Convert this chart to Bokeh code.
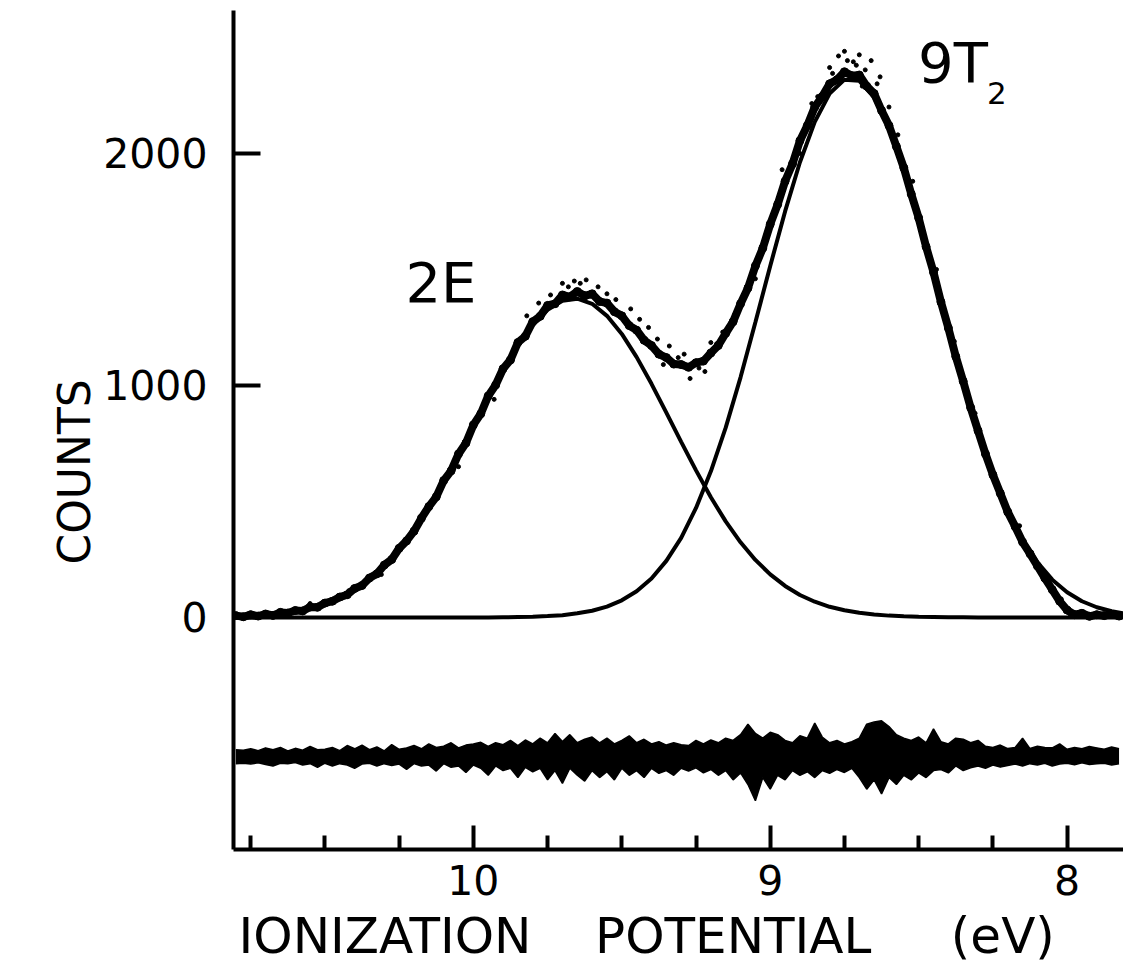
from bokeh.plotting import figure
from bokeh.models import Range1d, FixedTicker, Label
from bokeh.embed import file_html
from bokeh.resources import INLINE

# ---------------- data ----------------
# energy grid of the two fitted components (eV)
FIT_EV = [10.80, 10.75, 10.70, 10.65, 10.60, 10.55, 10.50, 10.45, 10.40, 10.35,
          10.30, 10.25, 10.20, 10.15, 10.10, 10.05, 10.00, 9.95, 9.90, 9.85,
          9.80, 9.75, 9.70, 9.65, 9.60, 9.55, 9.50, 9.45, 9.40, 9.35,
          9.30, 9.25, 9.20, 9.15, 9.10, 9.05, 9.00, 8.95, 8.90, 8.85,
          8.80, 8.75, 8.70, 8.65, 8.60, 8.55, 8.50, 8.45, 8.40, 8.35,
          8.30, 8.25, 8.20, 8.15, 8.10, 8.05, 8.00, 7.95, 7.90, 7.85, 7.80]
FIT_2E = [4, 7, 11, 18, 27, 40, 59, 85, 120, 165,
          222, 292, 375, 472, 580, 698, 822, 945, 1064, 1171,
          1260, 1326, 1365, 1374, 1352, 1300, 1222, 1122, 1007, 883,
          757, 634, 518, 414, 324, 248, 186, 136, 97, 68,
          46, 31, 20, 13, 8, 5, 3, 2, 1, 1,
          0, 0, 0, 0, 0, 0, 0, 0, 0, 0, 0]
FIT_9T2 = [0, 0, 0, 0, 0, 0, 0, 0, 0, 0,
           0, 0, 0, 0, 0, 0, 0, 0, 1, 2,
           3, 6, 10, 18, 29, 47, 74, 113, 168, 244,
           343, 472, 630, 818, 1035, 1272, 1515, 1750, 1962, 2136,
           2258, 2318, 2313, 2241, 2110, 1930, 1716, 1482, 1243, 1014,
           804, 619, 463, 336, 238, 163, 109, 70, 44, 27, 16]

# measured spectrum and residual grid (eV)
DATA_EV = [10.800, 10.775, 10.750, 10.725, 10.700, 10.675, 10.650, 10.625, 10.600, 10.575,
           10.550, 10.525, 10.500, 10.475, 10.450, 10.425, 10.400, 10.375, 10.350, 10.325,
           10.300, 10.275, 10.250, 10.225, 10.200, 10.175, 10.150, 10.125, 10.100, 10.075,
           10.050, 10.025, 10.000, 9.975, 9.950, 9.925, 9.900, 9.875, 9.850, 9.825,
           9.800, 9.775, 9.750, 9.725, 9.700, 9.675, 9.650, 9.625, 9.600, 9.575,
           9.550, 9.525, 9.500, 9.475, 9.450, 9.425, 9.400, 9.375, 9.350, 9.325,
           9.300, 9.275, 9.250, 9.225, 9.200, 9.175, 9.150, 9.125, 9.100, 9.075,
           9.050, 9.025, 9.000, 8.975, 8.950, 8.925, 8.900, 8.875, 8.850, 8.825,
           8.800, 8.775, 8.750, 8.725, 8.700, 8.675, 8.650, 8.625, 8.600, 8.575,
           8.550, 8.525, 8.500, 8.475, 8.450, 8.425, 8.400, 8.375, 8.350, 8.325,
           8.300, 8.275, 8.250, 8.225, 8.200, 8.175, 8.150, 8.125, 8.100, 8.075,
           8.050, 8.025, 8.000, 7.975, 7.950, 7.925, 7.900, 7.875, 7.850, 7.825]
DATA_COUNTS = [8, 3, 12, 6, 15, 9, 22, 19, 30, 28,
               45, 44, 62, 70, 88, 98, 125, 138, 170, 188,
               226, 250, 298, 330, 372, 428, 478, 520, 590, 632,
               705, 752, 830, 878, 955, 1002, 1072, 1110, 1185, 1212,
               1275, 1298, 1345, 1352, 1390, 1382, 1405, 1386, 1395, 1362,
               1355, 1318, 1300, 1258, 1238, 1195, 1172, 1135, 1120, 1092,
               1090, 1078, 1098, 1105, 1140, 1172, 1225, 1275, 1352, 1420,
               1515, 1592, 1695, 1780, 1880, 1955, 2055, 2120, 2200, 2245,
               2300, 2318, 2352, 2335, 2338, 2290, 2258, 2185, 2120, 2030,
               1938, 1825, 1722, 1598, 1488, 1360, 1248, 1125, 1018, 905,
               805, 705, 615, 535, 455, 392, 325, 275, 222, 170,
               120, 70, 32, 12, 18, 5, 12, 8, 14, 6]

# scattered single points lying off the main band
STRAY_EV = [10.55, 10.42, 10.31, 10.18, 10.05, 9.93, 9.82, 9.74, 9.70, 9.66,
            9.62, 9.58, 9.55, 9.47, 9.44, 9.38, 9.36, 9.31, 9.27, 9.22,
            9.18, 9.12, 9.05, 8.97, 8.90, 8.84, 8.80, 8.77, 8.75, 8.72,
            8.70, 8.68, 8.66, 8.63, 8.60, 8.52, 8.44, 8.31, 8.16, 8.06, 8.02, 7.99,
            9.78, 9.68, 9.64, 9.52, 9.41, 9.34, 9.29, 9.24, 9.20, 9.16,
            8.96, 8.86, 8.79, 8.74, 8.71, 8.69, 8.64, 8.57, 8.48, 8.38]
STRAY_COUNTS = [60, 115, 185, 410, 650, 940, 1300, 1390, 1440, 1450,
                1455, 1425, 1395, 1330, 1285, 1200, 1090, 1120, 1030, 1060,
                1180, 1305, 1460, 1810, 2000, 2245, 2370, 2420, 2440, 2395,
                2425, 2360, 2400, 2330, 2200, 1880, 1500, 880, 395, 150, 80, 15,
                1355, 1425, 1440, 1370, 1250, 1170, 1135, 1075, 1185, 1230,
                1930, 2215, 2345, 2400, 2380, 2290, 2300, 2080, 1640, 1190]

# residual trace (offset below zero): upper and lower envelope
RES_HI = [-570, -572, -566, -574, -562, -570, -560, -575, -564, -572,
          -556, -570, -568, -560, -574, -552, -566, -550, -570, -558,
          -575, -548, -568, -562, -552, -566, -545, -560, -555, -540,
          -562, -550, -545, -538, -556, -540, -548, -530, -552, -528,
          -545, -520, -540, -500, -535, -505, -540, -525, -515, -540,
          -520, -545, -530, -510, -540, -525, -545, -535, -550, -540,
          -548, -552, -530, -545, -528, -540, -520, -530, -505, -460,
          -500, -520, -495, -505, -530, -540, -510, -520, -455, -515,
          -540, -530, -545, -535, -520, -460, -450, -445, -470, -505,
          -520, -530, -515, -540, -480, -535, -545, -520, -525, -540,
          -530, -555, -560, -550, -565, -560, -520, -565, -555, -560,
          -562, -545, -568, -560, -566, -556, -562, -568, -558, -566]
RES_LO = [-630, -628, -632, -626, -634, -640, -628, -630, -625, -636,
          -630, -646, -628, -640, -630, -636, -650, -632, -628, -640,
          -630, -638, -632, -655, -630, -640, -636, -662, -630, -646,
          -640, -668, -636, -650, -680, -640, -660, -650, -690, -646,
          -665, -650, -700, -660, -715, -650, -680, -705, -660, -690,
          -665, -700, -650, -680, -660, -690, -650, -672, -660, -680,
          -650, -662, -648, -670, -655, -680, -660, -700, -670, -720,
          -790, -690, -740, -680, -700, -660, -680, -665, -690, -660,
          -672, -655, -668, -650, -690, -740, -700, -760, -690, -720,
          -680, -700, -670, -690, -660, -655, -670, -640, -660, -648,
          -640, -650, -636, -645, -638, -632, -640, -630, -636, -628,
          -640, -632, -628, -635, -626, -634, -630, -628, -636, -630]

Y_TICKS = [0, 1000, 2000]
X_TICKS = [8, 9, 10]
X_MINOR = [7.75, 8.25, 8.5, 8.75, 9.25, 9.5, 9.75, 10.25, 10.5, 10.75]

FONT = "DejaVu Sans"
INK = "black"
NB = "\u00a0"

p = figure(frame_width=890, frame_height=839,
           x_range=Range1d(10.808, 7.81), y_range=Range1d(-1000, 2616),
           output_backend="svg", toolbar_location=None,
           min_border_left=233, min_border_right=0, min_border_top=10, min_border_bottom=0)
p.outline_line_color = None
p.grid.visible = False
p.background_fill_color = "white"
p.border_fill_color = "white"

# residual band
p.varea(x=DATA_EV, y1=RES_LO, y2=RES_HI, fill_color=INK)
p.line(DATA_EV, RES_HI, line_color=INK, line_width=1.5)
p.line(DATA_EV, RES_LO, line_color=INK, line_width=1.5)
# measured points
p.line(DATA_EV, DATA_COUNTS, line_color=INK, line_width=8)
p.scatter(DATA_EV, DATA_COUNTS, size=8, color=INK)
p.scatter(STRAY_EV, STRAY_COUNTS, size=4, color=INK)
# fitted components
p.line(FIT_EV, FIT_2E, line_color=INK, line_width=4)
p.line(FIT_EV, FIT_9T2, line_color=INK, line_width=4)

# axes
yax = p.yaxis[0]
yax.ticker = FixedTicker(ticks=Y_TICKS)
yax.major_tick_in = 27
yax.major_tick_out = 0
yax.minor_tick_in = 0
yax.minor_tick_out = 0
yax.axis_line_width = 4
yax.major_tick_line_width = 4
yax.major_label_text_font = FONT
yax.major_label_text_font_size = "41px"
yax.major_label_text_color = INK
yax.major_label_standoff = 26
yax.axis_label = "COUNTS" + NB * 6
yax.axis_label_text_font = FONT
yax.axis_label_text_font_size = "44px"
yax.axis_label_text_font_style = "normal"
yax.axis_label_text_color = INK
yax.axis_label_standoff = 0

xax = p.xaxis[0]
xax.ticker = FixedTicker(ticks=X_TICKS, minor_ticks=X_MINOR)
xax.major_tick_in = 24
xax.major_tick_out = 0
xax.minor_tick_in = 14
xax.minor_tick_out = 0
xax.axis_line_width = 4
xax.major_tick_line_width = 4
xax.minor_tick_line_width = 4
xax.major_label_text_font = FONT
xax.major_label_text_font_size = "41px"
xax.major_label_text_color = INK
xax.major_label_standoff = 15
xax.axis_label = "IONIZATION" + NB * 4 + "POTENTIAL" + NB * 5 + "(eV)" + NB * 4
xax.axis_label_text_font = FONT
xax.axis_label_text_font_size = "50px"
xax.axis_label_text_font_style = "normal"
xax.axis_label_text_color = INK
xax.axis_label_standoff = 9

# peak annotations
p.add_layout(Label(x=10.229, y=1445, text="2E", text_font=FONT, text_font_size="56px",
                   text_align="left", text_baseline="alphabetic", text_color=INK))
p.add_layout(Label(x=8.502, y=2393, text="9T", text_font=FONT, text_font_size="56px",
                   text_align="left", text_baseline="alphabetic", text_color=INK))
p.add_layout(Label(x=8.27, y=2262, text="2", text_font=FONT, text_font_size="31px",
                   text_align="left", text_baseline="alphabetic", text_color=INK))

open("out.html", "w").write(file_html(p, INLINE))
